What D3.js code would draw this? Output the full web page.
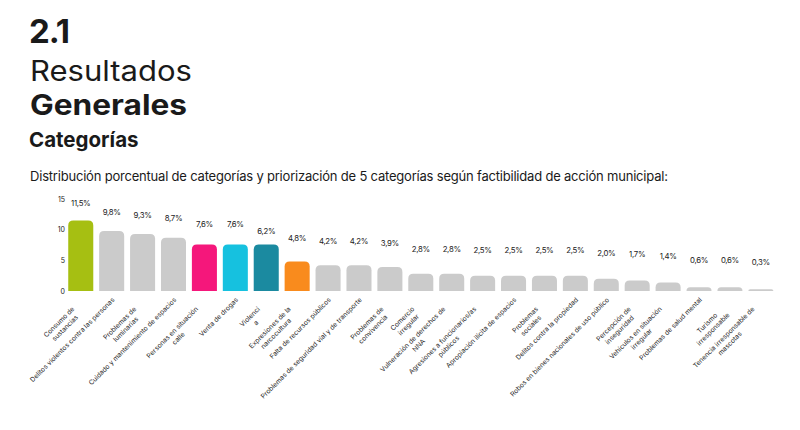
<!DOCTYPE html>
<html>
<head>
  <meta charset="utf-8">
  <title>Resultados Generales</title>
  <script src="https://cdn.jsdelivr.net/npm/d3@7"></script>
  <style>
    body {
      margin: 0;
      background: #fff;
    }
    text {
      font-family: Inter, "Noto Sans", sans-serif;
      fill: #1a1a1a;
    }
  </style>
</head>
<body>
  <svg id="chart" width="800" height="430"></svg>
  <script>
    // categorias y valores
    var categorias = [
      "Consumo de\nsustancias",
      "Delitos violentos contra las personas",
      "Problemas de\nluminarias",
      "Cuidado y mantenimiento de espacios",
      "Personas en situación\ncalle",
      "Venta de drogas",
      "Violenci\na",
      "Expresiones de la\nnarcocultura",
      "Falta de recursos públicos",
      "Problemas de seguridad vial y de transporte",
      "Problemas de\nconvivencia",
      "Comercio\nirregular",
      "Vulneración de derechos de\nNNA",
      "Agresiones a funcionarios/as\npúblicos",
      "Apropiación ilícita de espacios",
      "Problemas\nsociales",
      "Delitos contra la propiedad",
      "Robos en bienes nacionales de uso público",
      "Percepción de\ninseguridad",
      "Vehículos en situación\nirregular",
      "Problemas de salud mental",
      "Turismo\nirresponsable",
      "Tenencia irresponsable de\nmascotas"
    ]
    // porcentaje escrito sobre cada barra
    var porcentajes = [11.5, 9.8, 9.3, 8.7, 7.6, 7.6, 6.2, 4.8, 4.2, 4.2, 3.9, 2.8, 2.8, 2.5, 2.5, 2.5, 2.5, 2.0, 1.7, 1.4, 0.6, 0.6, 0.3]
    // altura dibujada de cada barra (Violencia aparece a la altura de 7,6)
    var alturas = [11.5, 9.8, 9.3, 8.7, 7.6, 7.6, 7.6, 4.8, 4.2, 4.2, 3.9, 2.8, 2.8, 2.5, 2.5, 2.5, 2.5, 2.0, 1.7, 1.4, 0.6, 0.6, 0.3]
    var colores = ["#a6bf12", "#cbcbcb", "#cbcbcb", "#cbcbcb", "#f5177b", "#16c1df", "#1b8aa0", "#f98b1d",
      "#cbcbcb", "#cbcbcb", "#cbcbcb", "#cbcbcb", "#cbcbcb", "#cbcbcb", "#cbcbcb", "#cbcbcb", "#cbcbcb",
      "#cbcbcb", "#cbcbcb", "#cbcbcb", "#cbcbcb", "#cbcbcb", "#cbcbcb"]
    var yTicks = [0, 5, 10, 15]

    var svg = d3.select("#chart")

    // titulos
    svg.append("text").attr("x", 29).attr("y", 43)
      .style("font-size", "33px").style("font-weight", 700).style("letter-spacing", "-1px").text("2.1")
    svg.append("text").attr("x", 30).attr("y", 81)
      .attr("textLength", 162).attr("lengthAdjust", "spacingAndGlyphs")
      .style("font-size", "28px").style("font-weight", 400).text("Resultados")
    svg.append("text").attr("x", 30).attr("y", 115)
      .attr("textLength", 157).attr("lengthAdjust", "spacingAndGlyphs")
      .style("font-size", "28px").style("font-weight", 700).text("Generales")
    svg.append("text").attr("x", 29).attr("y", 147)
      .style("font-size", "20.5px").style("font-weight", 700).text("Categorías")
    svg.append("text").attr("x", 30).attr("y", 181)
      .style("font-size", "13px").style("letter-spacing", "-0.2px")
      .text("Distribución porcentual de categorías y priorización de 5 categorías según  factibilidad de acción municipal:")

    var x = d3.scaleBand()
      .domain(d3.range(categorias.length))
      .range([65.3, 776.3])
      .paddingInner(0.19)
      .paddingOuter(0.095)

    var y = d3.scaleLinear()
      .domain([0, 15])
      .range([291, 199])

    // las etiquetas de % suben menos que las barras
    var yLabel = d3.scaleLinear()
      .domain([0, 15])
      .range([264, 186])

    // eje y
    var yAxis = svg.append("g")
      .attr("transform", "translate(66,0)")
      .call(d3.axisLeft(y).tickValues(yTicks).tickSize(0).tickPadding(1))
    yAxis.select(".domain").remove()
    yAxis.selectAll("text").attr("fill", "#333").style("font-size", "7px")
      .style("font-family", "Inter, sans-serif")

    // barras con esquinas superiores redondeadas
    function barPath(x0, y0, w, h) {
      var r = Math.min(5, h, w / 2)
      return "M" + x0 + "," + (y0 + h) +
        "V" + (y0 + r) +
        "Q" + x0 + "," + y0 + " " + (x0 + r) + "," + y0 +
        "H" + (x0 + w - r) +
        "Q" + (x0 + w) + "," + y0 + " " + (x0 + w) + "," + (y0 + r) +
        "V" + (y0 + h) + "Z"
    }

    svg.append("g").selectAll("path")
      .data(alturas)
      .join("path")
      .attr("fill", function (d, i) { return colores[i] })
      .attr("d", function (d, i) {
        return barPath(x(i), y(d), x.bandwidth(), y(0) - y(d))
      })

    // etiquetas de porcentaje
    svg.append("g").selectAll("text")
      .data(porcentajes)
      .join("text")
      .attr("x", function (d, i) { return x(i) + x.bandwidth() / 2 })
      .attr("y", function (d) { return yLabel(d) })
      .attr("text-anchor", "middle")
      .attr("dominant-baseline", "middle")
      .style("font-size", "7.8px")
      .style("letter-spacing", "-0.3px")
      .text(function (d) { return d.toFixed(1).replace(".", ",") + "%" })

    // etiquetas de categoria, rotadas
    var lineH = 8.5
    var cats = svg.append("g").selectAll("g")
      .data(categorias)
      .join("g")
      .attr("transform", function (d, i) {
        return "translate(" + (x(i) + x.bandwidth() / 2 + 2) + ",299) rotate(-45)"
      })

    cats.each(function (d) {
      var g = d3.select(this)
      var lines = d.split("\n")
      var t = g.selectAll("text")
        .data(lines)
        .join("text")
        .attr("y", function (l, k) { return k * lineH })
        .attr("dominant-baseline", "middle")
        .style("font-size", "6.7px")
        .style("fill", "#2b2b2b")
        .text(function (l) { return l })
      if (lines.length == 1) {
        t.attr("text-anchor", "end").attr("x", 0)
      }
      else {
        var maxW = 0
        t.each(function () { maxW = Math.max(maxW, this.getComputedTextLength()) })
        t.attr("text-anchor", "middle").attr("x", -maxW / 2 - 13)
      }
    })
  </script>
</body>
</html>
